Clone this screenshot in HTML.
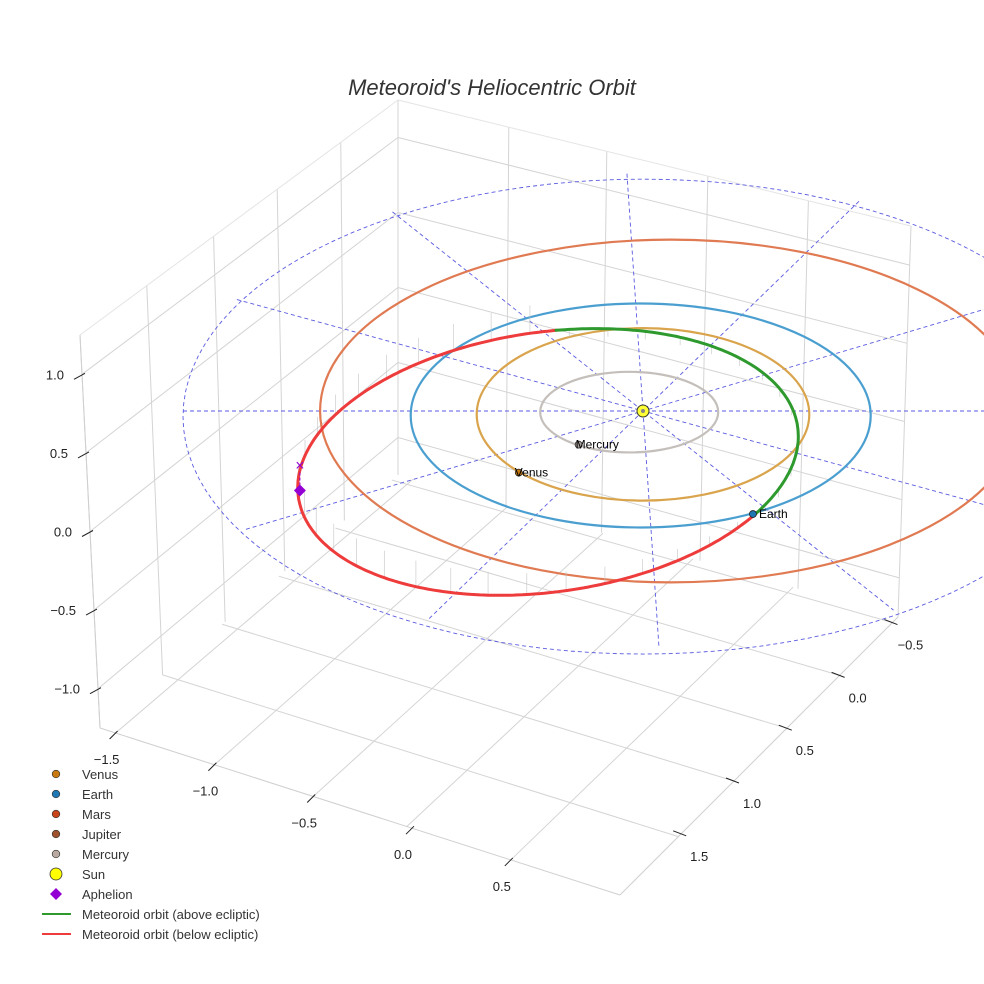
<!DOCTYPE html>
<html><head><meta charset="utf-8"><style>
html,body{margin:0;padding:0;background:#fff;}
svg{display:block;font-family:"Liberation Sans",sans-serif;}
</style></head><body>
<svg id="chart" width="984" height="984" viewBox="0 0 984 984" xmlns="http://www.w3.org/2000/svg">
<rect width="984" height="984" fill="#fff"/>
<text x="492" y="95" text-anchor="middle" font-size="22" font-style="italic" fill="#333">Meteoroid's Heliocentric Orbit</text>
<g id="box"></g>
<g id="eclip"></g>
<g id="orbits"></g>
<g id="met"></g>
<g id="bodies"></g>
<g id="ticks"></g>
<g id="legend"></g>
</svg>
<script>
// ---- data ----
const planetNames = ["Mercury","Venus","Earth","Mars"];
const planetA = [0.387, 0.723, 1.0, 1.524];
const planetAv = [0.36, 0.77, 1.0, 1.53];
const planetDu = [-0.06, 0.0, -0.01, 0.12];
const planetDv = [0.01, 0.03, 0.04, 0.0];
const planetColors = ["#c4bfbb","#d9a44c","#4a9fd0","#e07a52"];
const planetPosU = [-0.28, -0.54, 0.478];
const planetPosV = [0.30, 0.55, 0.92];
const planetMarkerColors = ["#a8a09a","#c87a10","#1f77b4"];
const labelDx = [-3, -4, 6];
const zTicks = [1.0, 0.5, 0.0, -0.5, -1.0];
const xTicks = [-1.5, -1.0, -0.5, 0.0, 0.5];
const yTicks = [-0.5, 0.0, 0.5, 1.0, 1.5];
const spokeAngles = [0, 28, 57, 88, 118, 150];
const ringRadiusU = 2.0, ringRadiusV = 2.12;
// meteoroid orbit (projected ellipse parameters, AU)
const metCenterU = -0.413, metCenterV = 0.455;
const metSemiU = 1.096, metSemiV = 1.16, metRotDeg = -8;
const metGreenStart = -84, metGreenEnd = 38, metAphelionT = 182;
const aphelionZ = -0.16;

// ---- projection ----
const SX = 643, SY = 411, KU = 230, KV = 112, KZ = 157;
function px(u){return SX + u*KU;}
function py(v){return SY + v*KV;}
const NS="http://www.w3.org/2000/svg";
function mk(tag, attrs, parent){const e=document.createElementNS(NS,tag);for(const k in attrs)e.setAttribute(k,attrs[k]);parent.appendChild(e);return e;}
const G = id=>document.getElementById(id);

// ---- box ----
const box=G('box');
const B=[80,335],A=[398,100],F=[398,475],D=[100,728],C=[911,226],Gc=[898,617],E=[620,895];
function lerp(p,q,t){return [p[0]+(q[0]-p[0])*t,p[1]+(q[1]-p[1])*t];}
function ln(p,q,parent,col,w,name){const l=mk('line',{x1:p[0],y1:p[1],x2:q[0],y2:q[1],stroke:col,'stroke-width':w},parent);return l;}
const zf=[0.1,0.3,0.5,0.7,0.9];
[0,0.21,0.42,0.62,0.82,1].forEach(t=>ln(lerp(B,A,t),lerp(D,F,t),box,'#d4d4d4',1,'left-wall-gridline'));
zf.forEach(t=>ln(lerp(B,D,t),lerp(A,F,t),box,'#d4d4d4',1,'left-wall-gridline'));
[0.216,0.407,0.604,0.8,1].forEach(t=>ln(lerp(A,C,t),lerp(F,Gc,t),box,'#d4d4d4',1,'right-wall-gridline'));
zf.forEach(t=>ln(lerp(A,F,t),lerp(C,Gc,t),box,'#d4d4d4',1,'right-wall-gridline'));
ln(B,A,box,'#e4e4e4',1,'box-edge');ln(A,C,box,'#e4e4e4',1,'box-edge');
[0.03,0.22,0.41,0.59,0.79].forEach(t=>ln(lerp(D,E,t),lerp(F,Gc,t),box,'#d4d4d4',1,'floor-gridline'));
[0.02,0.21,0.4,0.59,0.79].forEach(t=>ln(lerp(Gc,E,t),lerp(F,D,t),box,'#d4d4d4',1,'floor-gridline'));
ln(D,E,box,'#cfcfcf',1,'x-axis-line');ln(E,Gc,box,'#cfcfcf',1,'y-axis-line');ln(B,D,box,'#cfcfcf',1,'z-axis-line');

// ---- ecliptic grid ----
const ec=G('eclip');
let ring=[];for(let i=0;i<=120;i++){const t=i/120*2*Math.PI;ring.push(px(ringRadiusU*Math.cos(t))+','+py(0.05+ringRadiusV*Math.sin(t)));}
const rp=mk('polyline',{points:ring.join(' '),fill:'none',stroke:'#5a5ae0','stroke-width':0.9,'stroke-dasharray':'4,3'},ec);

spokeAngles.forEach(a=>{const r=a*Math.PI/180;const cu=Math.cos(r)*ringRadiusU,cv=Math.sin(r)*ringRadiusV;
 const l=mk('line',{x1:px(-cu),y1:py(-cv),x2:px(cu),y2:py(cv),stroke:'#5a5ae0','stroke-width':0.9,'stroke-dasharray':'4,3'},ec);
 });

// ---- planet orbits ----
const orb=G('orbits');
planetNames.forEach((n,i)=>{
 const e=mk('ellipse',{cx:px(planetDu[i]),cy:py(planetDv[i]),rx:planetA[i]*KU,ry:planetAv[i]*KV,fill:'none',stroke:planetColors[i],'stroke-width':2.2},orb);
 
});

// ---- meteoroid ----
const met=G('met');
function metPt(tdeg){const t=tdeg*Math.PI/180,r=metRotDeg*Math.PI/180;
 const a=metSemiU*KU*Math.cos(t),b=metSemiV*KV*Math.sin(t);
 return [px(metCenterU)+a*Math.cos(r)-b*Math.sin(r), py(metCenterV)+a*Math.sin(r)+b*Math.cos(r)];}
for(let t=-180;t<180;t+=9){const p=metPt(t);const above=(t>metGreenStart&&t<metGreenEnd);
 const len=above?-8:24*Math.abs(Math.sin((t-metGreenEnd)*Math.PI/(360-(metGreenEnd-metGreenStart))))+4;
 const l=mk('line',{x1:p[0],y1:p[1],x2:p[0],y2:p[1]-len,stroke:'#c4c4c4','stroke-width':0.6},met);
 }
function seg(t0,t1,col,name){const pts=[];for(let t=t0;t<=t1+0.01;t+=1){const p=metPt(t);pts.push(p[0].toFixed(1)+','+p[1].toFixed(1));}
 const pl=mk('polyline',{points:pts.join(' '),fill:'none',stroke:col,'stroke-width':3,'stroke-linecap':'round'},met);
 }
seg(metGreenEnd,metGreenStart+360,'#ee3b3b','meteoroid-orbit-below');
seg(metGreenStart,metGreenEnd,'#2e9a2e','meteoroid-orbit-above');

// ---- bodies ----
const bd=G('bodies');
const ap=metPt(metAphelionT);
const apx=ap[0]+2,apy=ap[1]-2,apzy=apy+aphelionZ*KZ;
const al=mk('line',{x1:apx,y1:apy,x2:apx,y2:apzy+5,stroke:'#9400d3','stroke-width':1,'stroke-dasharray':'3,2'},bd);

const ax=mk('text',{x:apx,y:apzy+5,'text-anchor':'middle','font-size':16,fill:'#9400d3'},bd);ax.textContent='×';

const dm=mk('polygon',{points:`${apx},${apy-6} ${apx+6},${apy} ${apx},${apy+6} ${apx-6},${apy}`,fill:'#9400d3'},bd);

planetPosU.forEach((u,i)=>{const x=px(u),y=py(planetPosV[i]);
 const c=mk('circle',{cx:x,cy:y,r:3.5,fill:planetMarkerColors[i],stroke:'#222','stroke-width':0.8},bd);
 
 const t=mk('text',{x:x+labelDx[i],y:y+4,'font-size':12,fill:'#000'},bd);t.textContent=planetNames[i];
 });
const sun=mk('circle',{cx:SX,cy:SY,r:6,fill:'#ffff33',stroke:'#333','stroke-width':1},bd);

const sd=mk('circle',{cx:SX,cy:SY,r:2,fill:'#888'},bd);


// ---- ticks ----
const tk=G('ticks');
function fmt(v){return (v<0?'\u2212':'')+Math.abs(v).toFixed(1);}
zTicks.forEach(v=>{const t=(1.25-v)/2.5;const p=lerp(B,D,t);
 ln([p[0]-8,p[1]+5],[p[0]+3,p[1]-1],tk,'#222',1,'z-tick');
 const tx=mk('text',{x:p[0]-18,y:p[1]+5,'text-anchor':'end','font-size':13,fill:'#222'},tk);tx.textContent=fmt(v);
 });
xTicks.forEach(v=>{const t=0.03+(v+1.5)/0.5*0.19;const p=lerp(D,E,t);
 ln([p[0]-6,p[1]+6],[p[0]+2,p[1]-2],tk,'#222',1,'x-tick');
 const tx=mk('text',{x:p[0]-9,y:p[1]+31,'text-anchor':'middle','font-size':13,fill:'#222'},tk);tx.textContent=fmt(v);
 });
yTicks.forEach(v=>{const t=0.02+(v+0.5)/0.5*0.19;const p=lerp(Gc,E,t);
 ln([p[0]-8,p[1]-3],[p[0]+5,p[1]+2],tk,'#222',1,'y-tick');
 const tx=mk('text',{x:p[0]+18,y:p[1]+27,'text-anchor':'middle','font-size':13,fill:'#222'},tk);tx.textContent=fmt(v);
 });

// ---- legend ----
const lg=G('legend');
const legendLabels=["Venus","Earth","Mars","Jupiter","Mercury","Sun","Aphelion","Meteoroid orbit (above ecliptic)","Meteoroid orbit (below ecliptic)"];
const legendColors=["#c87a10","#1f77b4","#c8441a","#a0522d","#b8aaa0","#ffff00","#9400d3","#2e9a2e","#ee3b3b"];
legendLabels.forEach((lab,i)=>{const y=774+i*20;
 let m;
 if(i<5){m=mk('circle',{cx:56,cy:y,r:3.8,fill:legendColors[i],stroke:'#333','stroke-width':0.7},lg);}
 else if(i===5){m=mk('circle',{cx:56,cy:y,r:6,fill:legendColors[i],stroke:'#333','stroke-width':0.8},lg);}
 else if(i===6){m=mk('polygon',{points:`56,${y-6} 62,${y} 56,${y+6} 50,${y}`,fill:legendColors[i]},lg);}
 else{m=mk('line',{x1:42,y1:y,x2:71,y2:y,stroke:legendColors[i],'stroke-width':2},lg);}
 
 const t=mk('text',{x:82,y:y+5,'font-size':13,fill:'#333'},lg);t.textContent=lab;
 });
</script>
</body></html>
